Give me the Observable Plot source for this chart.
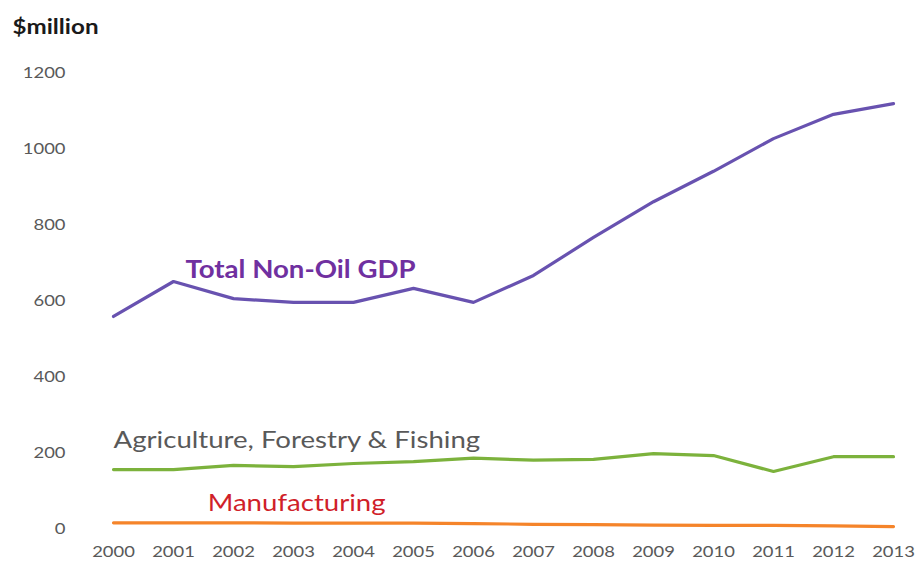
<!DOCTYPE html>
<html>
<head>
<meta charset="utf-8">
<script src="https://cdn.jsdelivr.net/npm/d3@7"></script>
<script src="https://cdn.jsdelivr.net/npm/@observablehq/plot@0.6"></script>
<style>
  html, body { margin: 0; padding: 0; background: #fff; }
  #chart { width: 917px; height: 564px; }
</style>
</head>
<body>
<div id="chart"></div>
<script>
const years = [2000, 2001, 2002, 2003, 2004, 2005, 2006, 2007, 2008, 2009, 2010, 2011, 2012, 2013];
const totalNonOil = [558, 650, 605, 595, 595, 632, 595, 666, 766, 860, 940, 1026, 1090, 1118];
const agriculture = [155, 155, 166, 163, 171, 176, 185, 180, 182, 197, 192, 150, 189, 189];
const manufacturing = [15, 15, 15, 14, 14, 14, 13, 11, 10, 9, 8, 8, 7, 5];
const yTicks = [0, 200, 400, 600, 800, 1000, 1200];

const seriesNames = ["Total Non-Oil GDP", "Agriculture, Forestry & Fishing", "Manufacturing"];
const seriesValues = [totalNonOil, agriculture, manufacturing];
const lineColors = ["#6852b0", "#7cb23c", "#f5842a"];

const rows = [];
seriesNames.forEach((s, i) => years.forEach((yr, j) => rows.push({series: s, year: yr, value: seriesValues[i][j]})));

const labels = [
  {text: "Total Non-Oil GDP", year: 2001.2, value: 680, fill: "#7030a0", weight: "bold", size: 24},
  {text: "Agriculture, Forestry & Fishing", year: 2000, value: 232, fill: "#595959", weight: "normal", size: 24},
  {text: "Manufacturing", year: 2001.57, value: 66, fill: "#d01f2a", weight: "normal", size: 24}
];

const font = "Lato, 'Open Sans', sans-serif";

const plot = Plot.plot({
  width: 917,
  height: 564,
  marginLeft: 113,
  marginRight: 24,
  marginTop: 72,
  marginBottom: 36,
  style: {fontFamily: font, background: "#fff"},
  x: {domain: [2000, 2013], label: null},
  y: {domain: [0, 1200], label: null},
  color: {domain: seriesNames, range: lineColors},
  marks: [
    Plot.axisX({ticks: years, tickFormat: d => String(d), tickSize: 0, tickPadding: 17, fontSize: 16, fill: "#595959", label: null}),
    Plot.axisY({ticks: yTicks, tickFormat: d => String(d), tickSize: 0, tickPadding: 48, fontSize: 16, fill: "#595959", label: null}),
    Plot.line(rows, {x: "year", y: "value", z: "series", stroke: "series", strokeWidth: 3.2}),
    ...labels.map(l => Plot.text([l], {x: "year", y: "value", text: "text", fill: l.fill, fontWeight: l.weight, fontSize: l.size, textAnchor: "start"})),
    Plot.text(["$million"], {frameAnchor: "top-left", dx: -101, dy: -53, text: d => d, fontWeight: "bold", fontSize: 21, fill: "#1a1a1a", textAnchor: "start"})
  ]
});
document.getElementById("chart").appendChild(plot);
// Reference uses a horizontally stretched narrow font; widen glyphs slightly
plot.querySelectorAll("text").forEach(t => {
  const w = t.getComputedTextLength();
  if (w > 0) {
    t.setAttribute("textLength", (w * 1.15).toFixed(1));
    t.setAttribute("lengthAdjust", "spacingAndGlyphs");
  }
});
</script>
</body>
</html>
